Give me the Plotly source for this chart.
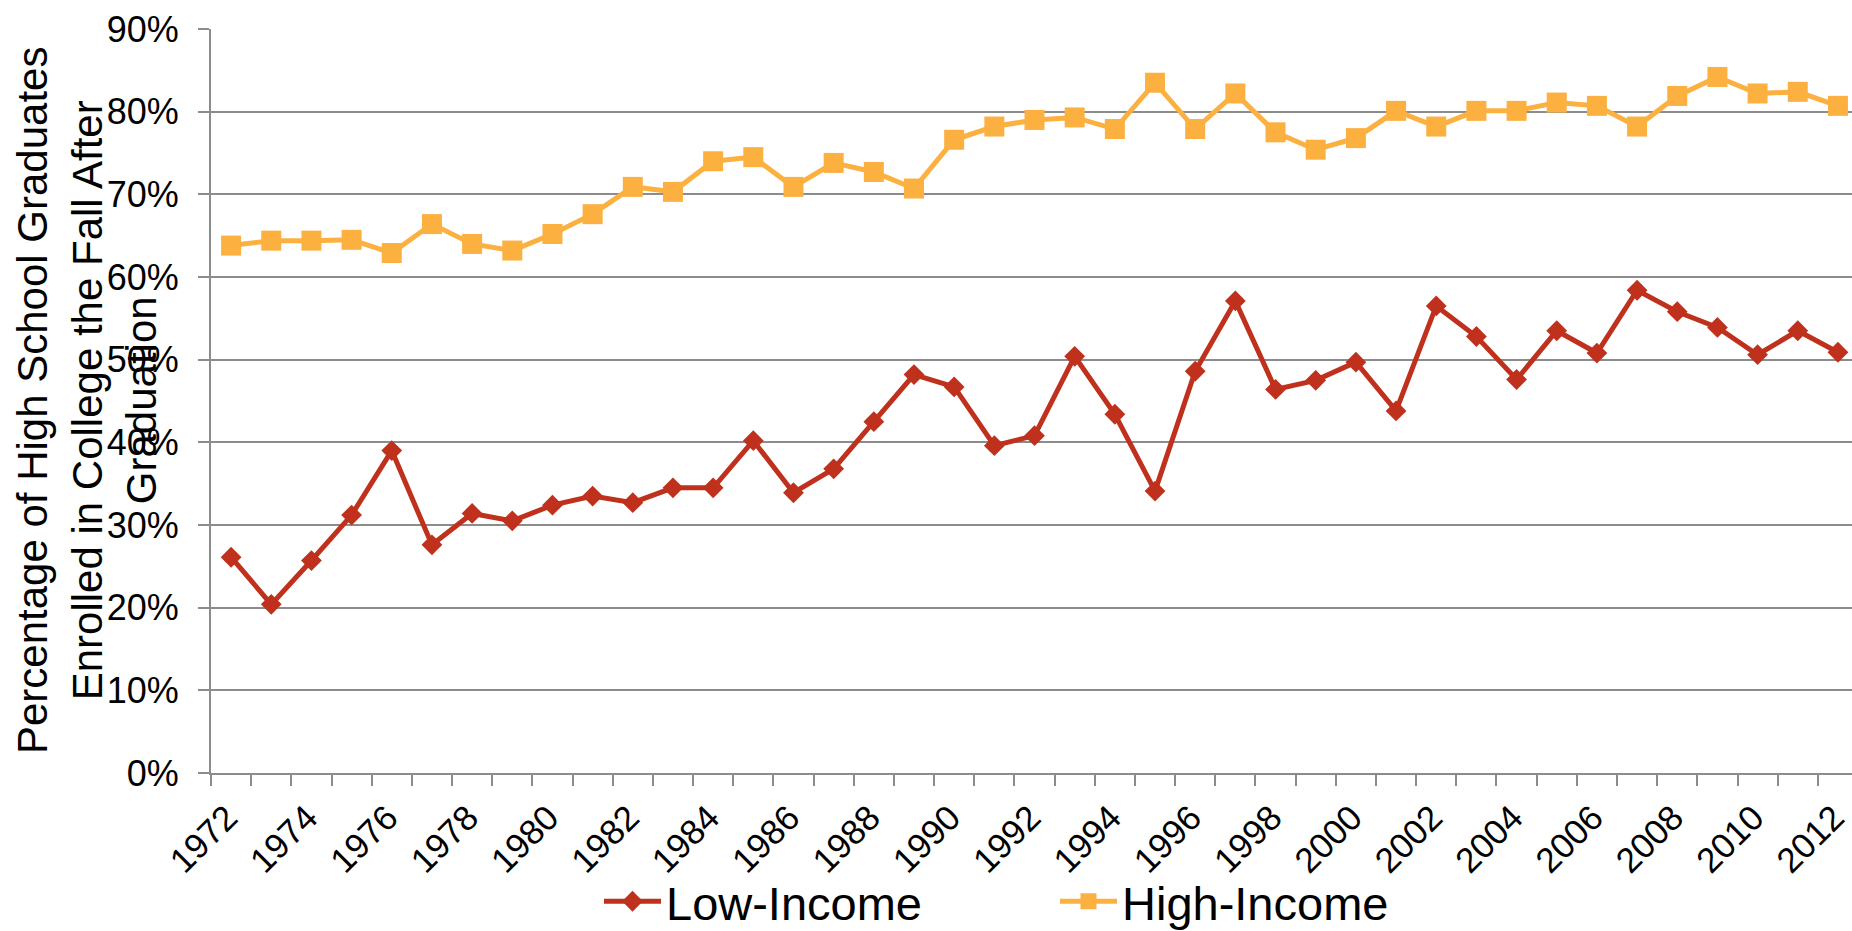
import plotly.graph_objects as go

years = list(range(1972, 2013))

low_income = [26.1, 20.4, 25.7, 31.2, 39.0, 27.6, 31.4, 30.5, 32.4, 33.5,
              32.7, 34.5, 34.5, 40.2, 33.9, 36.8, 42.5, 48.2, 46.7, 39.6,
              40.8, 50.4, 43.4, 34.1, 48.6, 57.1, 46.4, 47.5, 49.7, 43.8,
              56.5, 52.8, 47.6, 53.5, 50.8, 58.4, 55.8, 53.9, 50.6, 53.5,
              50.9]

high_income = [63.8, 64.4, 64.4, 64.5, 62.9, 66.4, 64.0, 63.2, 65.2, 67.6,
               70.9, 70.3, 74.0, 74.5, 70.9, 73.8, 72.7, 70.7, 76.6, 78.2,
               79.0, 79.3, 77.9, 83.5, 77.9, 82.2, 77.5, 75.4, 76.8, 80.1,
               78.2, 80.1, 80.1, 81.1, 80.7, 78.2, 81.9, 84.2, 82.2, 82.4,
               80.7]

y_ticks = [0, 10, 20, 30, 40, 50, 60, 70, 80, 90]
y_tick_labels = [f"{v}%" for v in y_ticks]
x_tick_years = years[::2]
x_tick_labels = [str(y) for y in x_tick_years]

series_names = ["Low-Income", "High-Income"]
y_title = "Percentage of High School Graduates<br>Enrolled in College the Fall After<br>Graduation"

RED = "#C0311D"
ORANGE = "#FBB040"
GRAY = "#8C8C8C"
FONT = "Liberation Sans, Arial, Helvetica, sans-serif"

fig = go.Figure()
fig.add_trace(go.Scatter(
    x=years, y=low_income, name=series_names[0], mode="lines+markers",
    line=dict(color=RED, width=5),
    marker=dict(symbol="diamond", size=16, color=RED),
))
fig.add_trace(go.Scatter(
    x=years, y=high_income, name=series_names[1], mode="lines+markers",
    line=dict(color=ORANGE, width=5),
    marker=dict(symbol="square", size=20, color=ORANGE),
))

L = 211
W = 1852
fig.update_layout(
    width=W, height=931,
    margin=dict(l=L, r=0, t=29, b=158, pad=0, autoexpand=False),
    paper_bgcolor="white", plot_bgcolor="white",
    font=dict(family=FONT, color="black", size=35),
    showlegend=True,
    legend=dict(
        orientation="h", x=(599 - L) / (W - L), xanchor="left", y=-0.173, yanchor="middle",
        font=dict(size=47, family=FONT, color="black"),
        itemwidth=57, entrywidth=384, entrywidthmode="pixels",
        bgcolor="rgba(0,0,0,0)", traceorder="normal",
    ),
    xaxis=dict(
        type="linear", range=[1971.5, 2012.35], automargin=False,
        tickmode="array", tickvals=x_tick_years, ticktext=x_tick_labels,
        tickangle=-45, ticks="", showgrid=False, zeroline=False,
        showline=True, linecolor=GRAY, linewidth=2,
        tickfont=dict(size=35, family=FONT, color="black"),
        ticklabelstandoff=8, ticklabelshift=-4, ticklabeloverflow="allow",
        minor=dict(tick0=1971.5, dtick=1, ticks="outside", ticklen=11,
                   tickcolor=GRAY, tickwidth=2, showgrid=False),
    ),
    yaxis=dict(
        range=[0, 90], automargin=False,
        tickmode="array", tickvals=y_ticks, ticktext=y_tick_labels,
        showgrid=True, gridcolor=GRAY, gridwidth=2, zeroline=False,
        showline=True, linecolor=GRAY, linewidth=2,
        ticks="outside", ticklen=11, tickcolor=GRAY, tickwidth=2,
        tickfont=dict(size=36, family=FONT, color="black"),
        ticklabelstandoff=12,
    ),
)

fig.add_annotation(
    text=y_title, textangle=-90, xref="paper", yref="paper",
    x=(87 - L) / (W - L), y=0.5, xanchor="center", yanchor="middle",
    showarrow=False, align="center",
    font=dict(size=42, family=FONT, color="black"),
)

fig.write_html(
    "out.html",
    config={"displayModeBar": False},
    post_script="document.body.style.margin='0';document.body.style.overflow='hidden';",
)
